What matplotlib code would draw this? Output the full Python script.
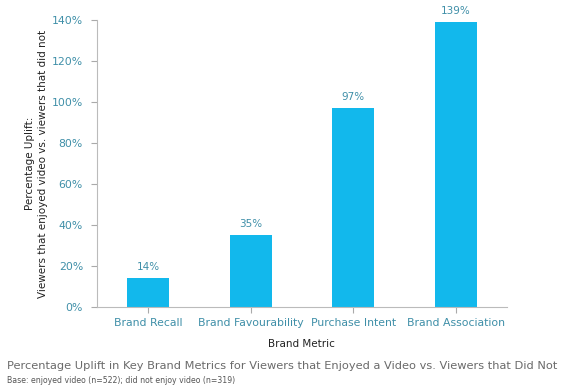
import matplotlib.pyplot as plt
from matplotlib.ticker import PercentFormatter

# chart data
metrics = ['Brand Recall', 'Brand Favourability', 'Purchase Intent', 'Brand Association']
uplift = [14, 35, 97, 139]
yticks = [0, 20, 40, 60, 80, 100, 120, 140]

bar_color = '#12b8ec'
label_color = '#3f8fa8'

fig = plt.figure(figsize=(5.8, 3.91), dpi=100)
ax = fig.add_axes([0.167, 0.215, 0.707, 0.734])

x = range(len(metrics))
bars = ax.bar(x, uplift, width=0.41, color=bar_color, zorder=2)

# value labels above the bars
for xi, v in zip(x, uplift):
    ax.text(xi, v + 3, f'{v}%', ha='center', va='bottom',
            fontsize=7.5, color=label_color)

ax.set_xlim(-0.5, 3.5)
ax.set_ylim(0, 140)
ax.set_yticks(yticks)
ax.yaxis.set_major_formatter(PercentFormatter(decimals=0))
ax.set_xticks(list(x))
ax.set_xticklabels(metrics)

ax.tick_params(axis='both', colors='#aaaaaa', labelcolor=label_color,
               labelsize=7.8, length=4, width=0.8)
ax.tick_params(axis='y', pad=6)
ax.tick_params(axis='x', pad=4)

for side in ['top', 'right']:
    ax.spines[side].set_visible(False)
for side in ['left', 'bottom']:
    ax.spines[side].set_color('#bbbbbb')
    ax.spines[side].set_linewidth(0.8)

ax.set_xlabel('Brand Metric', fontsize=7.5, color='#222222', labelpad=8)
ax.set_ylabel('Percentage Uplift:\nViewers that enjoyed video vs. viewers that did not',
              fontsize=7.5, color='#222222', labelpad=3, linespacing=1.3)

fig.text(0.012, 0.065, 'Percentage Uplift in Key Brand Metrics for Viewers that Enjoyed a Video vs. Viewers that Did Not',
         fontsize=8.2, color='#6a6a6a', ha='left', va='center')
fig.text(0.012, 0.028, 'Base: enjoyed video (n=522); did not enjoy video (n=319)',
         fontsize=5.6, color='#555555', ha='left', va='center')

fig.savefig('out.png', dpi=100)
